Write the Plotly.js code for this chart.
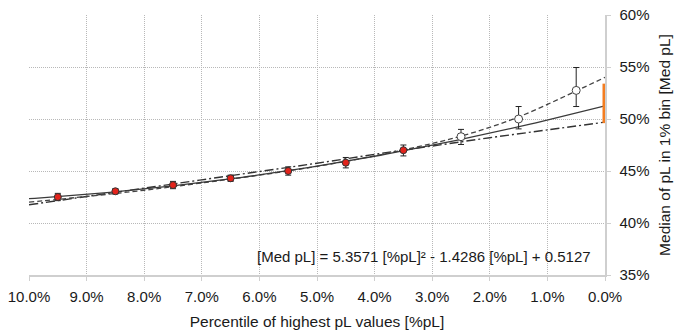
<!DOCTYPE html>
<html>
<head>
<meta charset="utf-8">
<script src="https://cdn.plot.ly/plotly-3.0.1.min.js"></script>
<style>
  html, body { margin: 0; padding: 0; background: #fff; }
  #chart { width: 675px; height: 334px; }
</style>
</head>
<body>
<div id="chart"></div>
<script>
// Median of pL in each 1% bin, by percentile of highest pL values
const binCenters   = [0.095, 0.085, 0.075, 0.065, 0.055, 0.045, 0.035];
const binMedians   = [0.425, 0.4305, 0.4365, 0.443, 0.450, 0.458, 0.470];
const binErrPlus   = [0.0035, 0.0025, 0.0035, 0.003, 0.004, 0.005, 0.005];
const binErrMinus  = [0.0035, 0.0025, 0.0035, 0.003, 0.004, 0.005, 0.0055];

// Top bins (excluded from the fit), drawn as open circles
const topCenters   = [0.025, 0.015, 0.005];
const topMedians   = [0.483, 0.500, 0.5275];
const topErrPlus   = [0.007, 0.012, 0.022];
const topErrMinus  = [0.0075, 0.0095, 0.0155];

// Quadratic fit: [Med pL] = a [%pL]^2 + b [%pL] + c
const fitCoeffs    = [5.3571, -1.4286, 0.5127];

// Alternative fits
const dashedX      = [0.10, 0.09, 0.08, 0.07, 0.06, 0.05, 0.04, 0.03, 0.025, 0.02, 0.015, 0.01, 0.005, 0.0];
const dashedY      = [0.420, 0.4255, 0.4315, 0.4385, 0.446, 0.4545, 0.4645, 0.4765, 0.4835, 0.492, 0.502, 0.514, 0.527, 0.540];
const dashDotX     = [0.10, 0.09, 0.08, 0.07, 0.06, 0.05, 0.04, 0.03, 0.02, 0.01, 0.0];
const dashDotY     = [0.4175, 0.4255, 0.4335, 0.4415, 0.4495, 0.4575, 0.466, 0.474, 0.482, 0.4895, 0.497];

// Range at 0%
const rangeX       = [0.0, 0.0];
const rangeY       = [0.496, 0.534];

const xTickVals    = [0.10, 0.09, 0.08, 0.07, 0.06, 0.05, 0.04, 0.03, 0.02, 0.01, 0.0];
const yTickVals    = [0.35, 0.40, 0.45, 0.50, 0.55, 0.60];

const fitX = [];
const fitY = [];
for (let i = 0; i <= 100; i++) {
  const x = 0.10 * i / 100;
  fitX.push(x);
  fitY.push(fitCoeffs[0] * x * x + fitCoeffs[1] * x + fitCoeffs[2]);
}

const FONT = '"Liberation Sans", Arial, Helvetica, sans-serif';
const TXT = '#1a1a1a';
const GRID = '#b8b8b8';
const AXIS = '#cfcfcf';

const traces = [
  {
    x: dashDotX, y: dashDotY, type: 'scatter', mode: 'lines',
    line: { color: '#333', width: 1.4, dash: '9px,3px,2px,3px', shape: 'spline' },
    hoverinfo: 'skip'
  },
  {
    x: dashedX, y: dashedY, type: 'scatter', mode: 'lines',
    line: { color: '#444', width: 1.3, dash: '5px,3px', shape: 'spline' },
    hoverinfo: 'skip'
  },
  {
    x: fitX, y: fitY, type: 'scatter', mode: 'lines',
    line: { color: '#3a3a3a', width: 1.3 },
    hoverinfo: 'skip'
  },
  {
    x: rangeX, y: rangeY, type: 'scatter', mode: 'lines',
    line: { color: '#F47D20', width: 5 },
    hoverinfo: 'skip'
  },
  {
    x: topCenters, y: topMedians, type: 'scatter', mode: 'markers',
    marker: { color: '#fff', size: 8, line: { color: '#444', width: 1 } },
    error_y: { type: 'data', symmetric: false, array: topErrPlus, arrayminus: topErrMinus,
               color: '#222', thickness: 1, width: 3 }
  },
  {
    x: binCenters, y: binMedians, type: 'scatter', mode: 'markers',
    marker: { color: '#E3231B', size: 7, line: { color: '#333', width: 1 } },
    error_y: { type: 'data', symmetric: false, array: binErrPlus, arrayminus: binErrMinus,
               color: '#222', thickness: 1, width: 3 }
  }
];

const layout = {
  width: 675, height: 334,
  margin: { l: 29, r: 70, t: 15, b: 59 },
  paper_bgcolor: '#fff', plot_bgcolor: '#fff',
  showlegend: false,
  font: { family: FONT, color: TXT, size: 15 },
  xaxis: {
    range: [0.10, 0.0],
    tickvals: xTickVals, tickformat: '.1%',
    showgrid: true, gridcolor: GRID, griddash: '1px,1px', gridwidth: 1,
    zeroline: false,
    showline: true, linecolor: AXIS, linewidth: 1.5,
    ticks: 'outside', ticklen: 4, tickcolor: AXIS,
    ticklabelstandoff: 3,
    tickfont: { family: FONT, size: 15, color: TXT },
    title: { text: 'Percentile of highest pL values [%pL]', font: { family: FONT, size: 15.5, color: TXT }, standoff: 12 }
  },
  yaxis: {
    side: 'right',
    range: [0.35, 0.60],
    tickvals: yTickVals, tickformat: '.0%',
    showgrid: true, gridcolor: GRID, griddash: '1px,1px', gridwidth: 1,
    zeroline: false,
    showline: true, linecolor: AXIS, linewidth: 1.5,
    ticks: 'outside', ticklen: 4, tickcolor: AXIS,
    ticklabelstandoff: 6,
    tickfont: { family: FONT, size: 15, color: TXT },
    title: { text: 'Median of pL in 1% bin [Med pL]', font: { family: FONT, size: 15.5, color: TXT }, standoff: 10 }
  },
  annotations: [
    {
      xref: 'paper', yref: 'paper', x: 0.979, y: 0.07,
      xanchor: 'right', yanchor: 'middle', showarrow: false,
      text: '[Med pL] = 5.3571 [%pL]² - 1.4286 [%pL] + 0.5127',
      font: { family: FONT, size: 15, color: TXT }
    }
  ]
};

Plotly.newPlot('chart', traces, layout, { displayModeBar: false, staticPlot: true });
</script>
</body>
</html>
